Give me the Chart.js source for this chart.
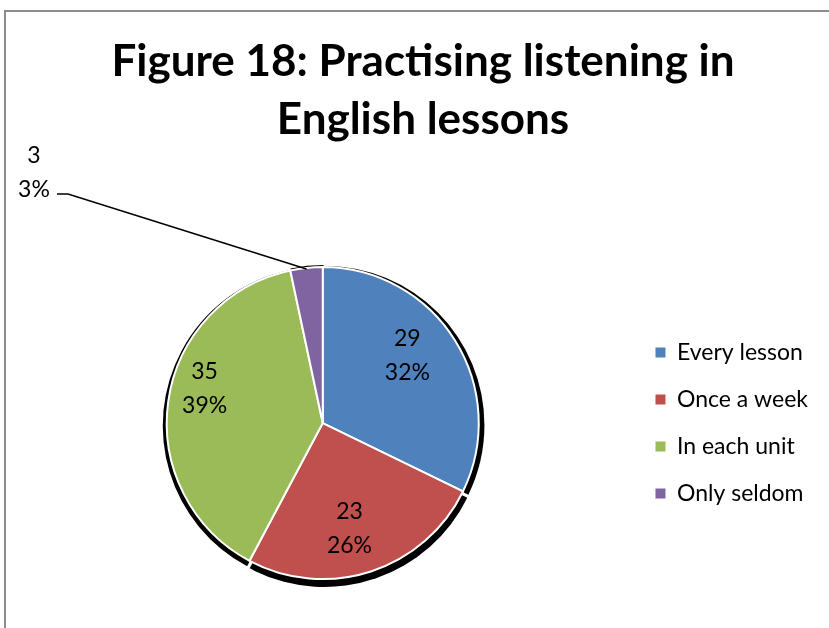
<!DOCTYPE html>
<html>
<head>
<meta charset="utf-8">
<script src="https://cdn.jsdelivr.net/npm/chart.js@4"></script>
<style>
  html, body { margin: 0; padding: 0; background: #fff; overflow: hidden; }
  #wrap { position: relative; width: 829px; height: 628px; overflow: hidden; }
  #frame { position: absolute; left: 4px; top: 10px; width: 900px; height: 700px;
           border-left: 2px solid #8c8c8c; border-top: 2px solid #8c8c8c; }
  #myChart { position: absolute; left: 0; top: 0; }
</style>
</head>
<body>
<div id="wrap">
  <div id="frame"></div>
  <canvas id="myChart" width="829" height="628"></canvas>
</div>
<script>
// Datos del gráfico
var labels = ['Every lesson', 'Once a week', 'In each unit', 'Only seldom'];
var counts = [29, 23, 35, 3];
var colors = ['#4F81BD', '#C0504D', '#9BBB59', '#8064A2'];
var outsideSlice = 3; // the thin slice gets its label outside, with a leader line
var labelNudge = [[-8, -10], [-7, 2], [-10, -19], [0, 0]];

var total = counts.reduce(function (a, b) { return a + b; }, 0);
function pct(i) { return Math.round(counts[i] / total * 100) + '%'; }

var labelFont = '23px Lato';

// The title is centred on the whole frame, which runs past the right edge
var titleSpan = {
  id: 'titleSpan',
  afterLayout: function (chart) {
    chart.titleBlock.left = 0;
    chart.titleBlock.right = 846;
  }
};

// Sombra negra bajo cada porción
var pieShadow = {
  id: 'pieShadow',
  beforeDatasetsDraw: function (chart) {
    var ctx = chart.ctx;
    ctx.save();
    ctx.fillStyle = '#000';
    ctx.filter = 'blur(0.6px)';
    chart.getDatasetMeta(0).data.forEach(function (arc) {
      var p = arc.getProps(['x', 'y', 'startAngle', 'endAngle', 'outerRadius'], true);
      var mid = (p.startAngle + p.endAngle) / 2;
      var cx = p.x + Math.cos(mid) * 2 + 1;
      var cy = p.y + Math.sin(mid) * 2 + 3;
      ctx.beginPath();
      ctx.moveTo(cx, cy);
      ctx.arc(cx, cy, p.outerRadius + 3, p.startAngle, p.endAngle);
      ctx.closePath();
      ctx.fill();
    });
    ctx.restore();
  }
};

// Etiquetas: valor y porcentaje
var sliceLabels = {
  id: 'sliceLabels',
  afterDatasetsDraw: function (chart) {
    var ctx = chart.ctx;
    ctx.save();
    ctx.font = labelFont;
    ctx.fillStyle = '#000';
    ctx.strokeStyle = '#000';
    ctx.lineWidth = 1.5;
    ctx.textAlign = 'center';
    ctx.textBaseline = 'middle';
    chart.getDatasetMeta(0).data.forEach(function (arc, i) {
      var p = arc.getProps(['x', 'y', 'startAngle', 'endAngle', 'outerRadius'], true);
      var mid = (p.startAngle + p.endAngle) / 2;
      if (i === outsideSlice) {
        var ex = p.x + Math.cos(mid) * (p.outerRadius - 1);
        var ey = p.y + Math.sin(mid) * (p.outerRadius - 1);
        ctx.beginPath();
        ctx.moveTo(ex, ey);
        ctx.lineTo(68, 194);
        ctx.lineTo(57, 194);
        ctx.stroke();
        ctx.fillText(String(counts[i]), 34, 156);
        ctx.fillText(pct(i), 34, 190);
      } else {
        var r = p.outerRadius * 0.7;
        var lx = p.x + Math.cos(mid) * r + labelNudge[i][0];
        var ly = p.y + Math.sin(mid) * r + labelNudge[i][1];
        ctx.fillText(String(counts[i]), lx, ly - 17);
        ctx.fillText(pct(i), lx, ly + 17);
      }
    });
    ctx.restore();
  }
};

var config = {
  type: 'pie',
  data: {
    labels: labels,
    datasets: [{
      data: counts,
      backgroundColor: colors,
      borderColor: '#fff',
      borderWidth: 2,
      radius: 156
    }]
  },
  options: {
    responsive: false,
    animation: false,
    events: [],
    layout: { padding: { left: 14, right: 11, top: 0, bottom: 0 } },
    plugins: {
      title: {
        display: true,
        text: ['Figure 18: Practising listening in', 'English lessons'],
        color: '#000',
        font: { family: 'Lato', size: 44, weight: 'bold', lineHeight: 1.32 },
        padding: { top: 33, bottom: 69 }
      },
      legend: {
        position: 'right',
        fullSize: false,
        labels: {
          boxWidth: 10,
          boxHeight: 10,
          padding: 24,
          color: '#000',
          font: { family: 'Lato', size: 23 },
          generateLabels: function (chart) {
            return Chart.overrides.pie.plugins.legend.labels.generateLabels(chart).map(function (l) {
              l.lineWidth = 0;
              return l;
            });
          }
        }
      },
      tooltip: { enabled: false }
    }
  },
  plugins: [titleSpan, pieShadow, sliceLabels]
};

var myChart = new Chart(document.getElementById('myChart'), config);
</script>
</body>
</html>
